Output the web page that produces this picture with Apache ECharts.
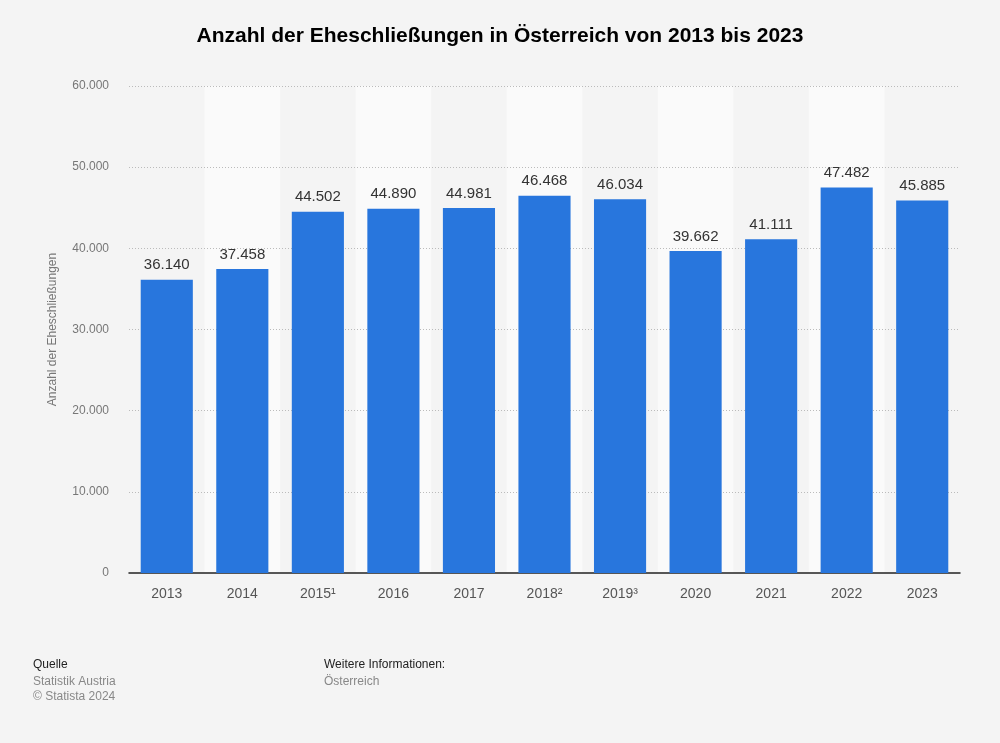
<!DOCTYPE html>
<html>
<head>
<meta charset="utf-8">
<script src="https://cdn.jsdelivr.net/npm/echarts@6/dist/echarts.min.js"></script>
<style>
html,body{margin:0;padding:0;background:#f4f4f4;}
#c{width:1000px;height:743px;}
</style>
</head>
<body>
<div id="c"></div>
<script>
const categories = ['2013','2014','2015\u00b9','2016','2017','2018\u00b2','2019\u00b3','2020','2021','2022','2023'];
const values = [36140, 37458, 44502, 44890, 44981, 46468, 46034, 39662, 41111, 47482, 45885];
const yTicks = [0, 10000, 20000, 30000, 40000, 50000, 60000];

const fmt = v => String(v).replace(/\B(?=(\d{3})+(?!\d))/g, '.');
const FONT = '"Liberation Sans", Arial, Helvetica, sans-serif';

const chart = echarts.init(document.getElementById('c'), null, {renderer: 'canvas'});
chart.setOption({
  backgroundColor: '#f4f4f4',
  animation: false,
  textStyle: {fontFamily: FONT},
  title: {
    text: 'Anzahl der Eheschließungen in Österreich von 2013 bis 2023',
    left: 'center', top: 21,
    textStyle: {fontFamily: FONT, fontSize: 21, fontWeight: 'bold', color: '#000'}
  },
  grid: {left: 129, right: 40, top: 86, bottom: 170, containLabel: false},
  xAxis: {
    type: 'category',
    z: 0,
    data: categories,
    axisLine: {lineStyle: {color: '#222', width: 1.5}},
    axisTick: {show: false},
    axisLabel: {color: '#555', fontSize: 14, margin: 14, fontFamily: FONT},
    splitArea: {show: true, areaStyle: {color: ['rgba(0,0,0,0)', '#fafafa']}}
  },
  yAxis: {
    type: 'value',
    z: 1,
    min: yTicks[0], max: yTicks[yTicks.length - 1], interval: 10000,
    name: 'Anzahl der Eheschließungen',
    nameLocation: 'middle', nameGap: 70, nameRotate: 90,
    nameTextStyle: {color: '#777', fontSize: 12, fontFamily: FONT},
    axisLine: {show: false}, axisTick: {show: false},
    axisLabel: {color: '#777', fontSize: 12, margin: 20, formatter: v => fmt(v), fontFamily: FONT},
    splitLine: {showMinLine: false, lineStyle: {color: '#bbb', type: [1, 2], width: 1}}
  },
  series: [{
    type: 'bar',
    z: 2,
    data: values,
    barCategoryGap: '31%',
    itemStyle: {color: '#2876dd'},
    label: {
      show: true, position: 'top', distance: 7,
      color: '#333', fontSize: 15, fontFamily: FONT,
      formatter: p => fmt(p.value)
    }
  }],
  graphic: [
    {type: 'text', left: 33, top: 659, style: {text: 'Quelle', fill: '#222', font: '12px ' + FONT}},
    {type: 'text', left: 33, top: 676, style: {text: 'Statistik Austria', fill: '#888', font: '12px ' + FONT}},
    {type: 'text', left: 33, top: 691, style: {text: '© Statista 2024', fill: '#888', font: '12px ' + FONT}},
    {type: 'text', left: 324, top: 659, style: {text: 'Weitere Informationen:', fill: '#222', font: '12px ' + FONT}},
    {type: 'text', left: 324, top: 676, style: {text: 'Österreich', fill: '#888', font: '12px ' + FONT}}
  ]
});
</script>
</body>
</html>
